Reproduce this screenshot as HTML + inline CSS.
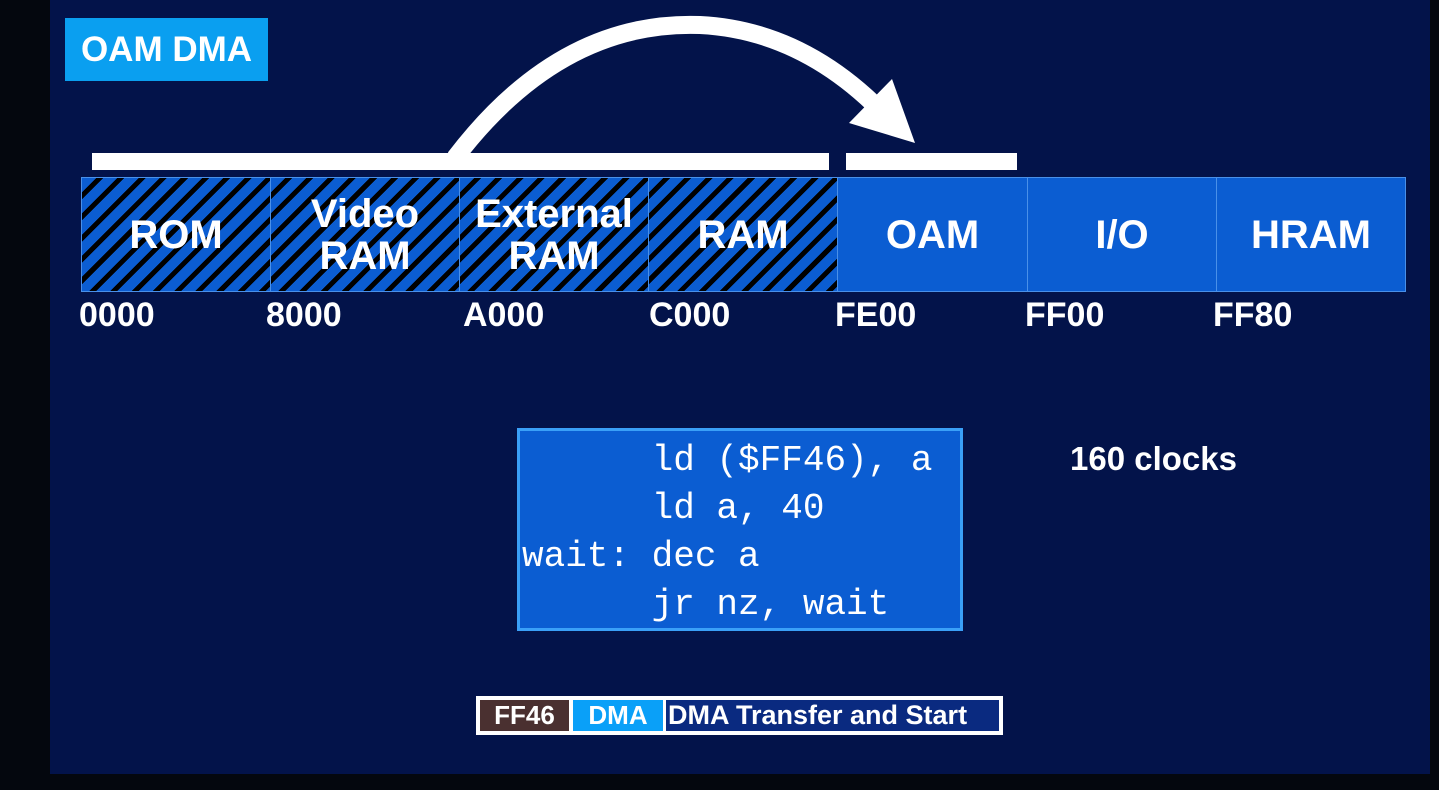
<!DOCTYPE html>
<html><head><style>
body{margin:0;width:1439px;height:790px;background:#04070e;overflow:hidden;position:relative;font-family:"Liberation Sans",sans-serif;color:#fff}
.slide{position:absolute;left:50px;top:0;width:1380px;height:774px;background:#03134a}
.a{position:absolute}
.seg{position:absolute;top:177px;height:115px;box-sizing:border-box;border:1px solid #4a90e8;background:#0b5dd2;display:flex;align-items:center;justify-content:center;text-align:center;font-weight:bold;font-size:40px;line-height:42px}
.h{background:repeating-linear-gradient(135deg,#0b5dd2 0 10px,#000 10px 15px)}
.lbl{position:absolute;top:296px;font-weight:bold;font-size:34px}
</style></head><body>
<div class="slide"></div>
<div class="a" style="left:65px;top:18px;width:203px;height:63px;background:#0a9ff0;font-weight:bold;font-size:35px;line-height:63px;text-align:center">OAM DMA</div>
<div class="a" style="left:92px;top:153px;width:737px;height:17px;background:#fff"></div>
<div class="a" style="left:846px;top:153px;width:171px;height:17px;background:#fff"></div>
<svg class="a" style="left:0;top:0" width="1439" height="200">
<path d="M455,158 Q560,20 700,25 Q800,30 880,110" fill="none" stroke="#fff" stroke-width="18"/>
<polygon points="849,123 892,79 915,143" fill="#fff"/>
</svg>
<div class="seg h" style="left:81px;width:190px">ROM</div>
<div class="seg h" style="left:270px;width:190px">Video<br>RAM</div>
<div class="seg h" style="left:459px;width:190px">External<br>RAM</div>
<div class="seg h" style="left:648px;width:190px">RAM</div>
<div class="seg" style="left:837px;width:191px">OAM</div>
<div class="seg" style="left:1027px;width:190px">I/O</div>
<div class="seg" style="left:1216px;width:190px">HRAM</div>
<div class="lbl" style="left:79px">0000</div>
<div class="lbl" style="left:266px">8000</div>
<div class="lbl" style="left:463px">A000</div>
<div class="lbl" style="left:649px">C000</div>
<div class="lbl" style="left:835px">FE00</div>
<div class="lbl" style="left:1025px">FF00</div>
<div class="lbl" style="left:1213px">FF80</div>
<div class="a" style="left:517px;top:428px;width:446px;height:203px;box-sizing:border-box;border:3px solid #3aa0f8;background:#0b5dd2"></div>
<pre class="a" style="left:522px;top:437px;margin:0;font-family:'Liberation Mono',monospace;font-size:36px;line-height:48px">      ld ($FF46), a
      ld a, 40
wait: dec a
      jr nz, wait</pre>
<div class="a" style="left:1070px;top:440px;font-weight:bold;font-size:33px">160 clocks</div>
<div class="a" style="left:476px;top:696px;width:527px;height:39px;background:#fff"></div>
<div class="a" style="left:480px;top:700px;width:89px;height:31px;background:#4a3030;font-weight:bold;font-size:26px;line-height:31px;text-align:center">FF46</div>
<div class="a" style="left:573px;top:700px;width:90px;height:31px;background:#0aa0f8;font-weight:bold;font-size:26px;line-height:31px;text-align:center">DMA</div>
<div class="a" style="left:666px;top:700px;width:333px;height:31px;background:#0a2a80;font-weight:bold;font-size:27px;line-height:31px;padding-left:2px;box-sizing:border-box;white-space:nowrap">DMA Transfer and Start</div>
</body></html>
